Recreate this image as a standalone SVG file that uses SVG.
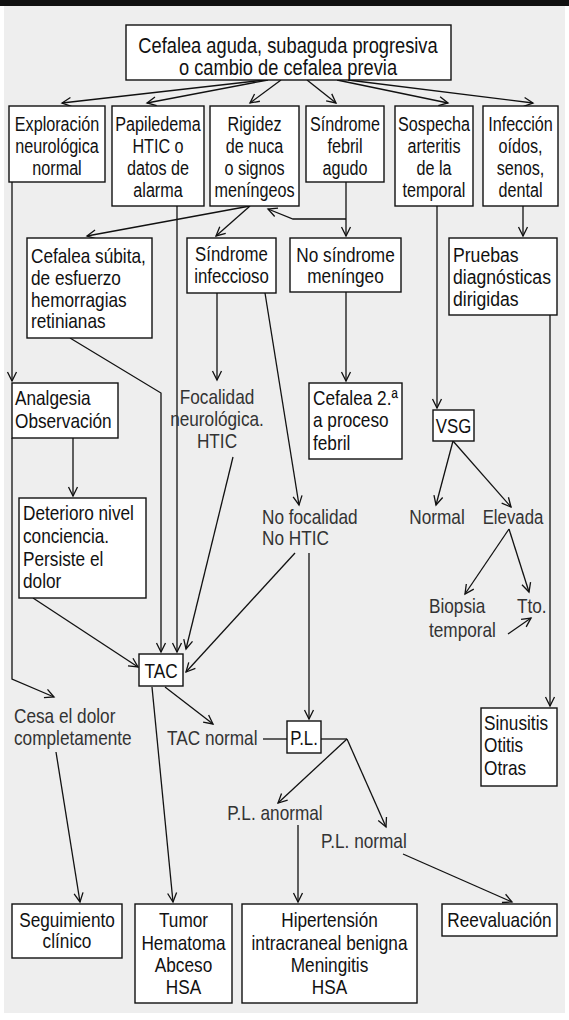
<svg xmlns="http://www.w3.org/2000/svg" width="569" height="1020" viewBox="0 0 569 1020">
  <defs>
    <style>
      .bx { fill: #fff; stroke: #111; stroke-width: 1.4; }
      .t { font-family: "Liberation Sans", Arial, sans-serif; font-size: 21px; fill: #111; }
      .l { font-family: "Liberation Sans", Arial, sans-serif; font-size: 21px; fill: #333; }
      .c { text-anchor: middle; }
      .ln { fill: none; stroke: #111; stroke-width: 1.3; }
      .ar { marker-end: url(#ah); }
    </style>
    <marker id="ah" viewBox="-11 -6 13 12" refX="0" refY="0" markerWidth="13" markerHeight="12" markerUnits="userSpaceOnUse" orient="auto">
      <path d="M-9,-4.5 L0,0 L-9,4.5" fill="none" stroke="#111" stroke-width="1.3"/>
    </marker>
  </defs>

  <!-- page -->
  <rect x="0" y="0" width="569" height="1020" fill="#fff"/>
  <rect x="4" y="6" width="561" height="1007" fill="#eeeeee"/>
  <rect x="0" y="0" width="569" height="6" fill="#111"/>

  <!-- connectors -->
  <g id="connectors">
    <line class="ln ar" x1="265" y1="80" x2="62" y2="103"/>
    <line class="ln ar" x1="268" y1="80" x2="147" y2="103"/>
    <line class="ln ar" x1="281" y1="80" x2="250" y2="103"/>
    <line class="ln ar" x1="307" y1="80" x2="336" y2="103"/>
    <line class="ln ar" x1="337" y1="80" x2="448" y2="103"/>
    <line class="ln ar" x1="348" y1="80" x2="533" y2="103"/>

    <line class="ln ar" x1="12" y1="182" x2="12" y2="381"/>
    <polyline class="ln ar" points="12,438 12,679 54,697"/>
    <line class="ln ar" x1="73" y1="438" x2="73" y2="496"/>
    <line class="ln ar" x1="33" y1="598" x2="138" y2="667"/>

    <line class="ln ar" x1="177" y1="206" x2="177" y2="652"/>
    <polyline class="ln ar" points="70,338 161,393 161,652"/>

    <line class="ln ar" x1="250" y1="206" x2="87" y2="236"/>
    <line class="ln ar" x1="250" y1="206" x2="216" y2="236"/>

    <line class="ln ar" x1="346" y1="182" x2="346" y2="236"/>
    <polyline class="ln ar" points="346,219 293,219 268,209"/>
    <line class="ln ar" x1="346" y1="292" x2="346" y2="381"/>

    <line class="ln ar" x1="437" y1="206" x2="437" y2="408"/>
    <line class="ln ar" x1="523" y1="206" x2="523" y2="236"/>
    <line class="ln ar" x1="550" y1="315" x2="550" y2="706"/>

    <line class="ln ar" x1="453" y1="441" x2="436" y2="505"/>
    <line class="ln ar" x1="453" y1="441" x2="511" y2="507"/>
    <line class="ln ar" x1="509" y1="529" x2="465" y2="594"/>
    <line class="ln ar" x1="509" y1="529" x2="529" y2="592"/>
    <line class="ln ar" x1="508" y1="634" x2="531" y2="618"/>

    <line class="ln ar" x1="217" y1="293" x2="217" y2="380"/>
    <line class="ln ar" x1="265" y1="293" x2="299" y2="505"/>
    <line class="ln ar" x1="233" y1="457" x2="186" y2="649"/>
    <line class="ln ar" x1="295" y1="553" x2="186" y2="672"/>
    <line class="ln ar" x1="309" y1="553" x2="309" y2="719"/>

    <line class="ln ar" x1="165" y1="687" x2="213" y2="724"/>
    <line class="ln" x1="263" y1="739" x2="287" y2="739"/>
    <line class="ln" x1="321" y1="739" x2="347" y2="739"/>
    <line class="ln ar" x1="347" y1="739" x2="278" y2="803"/>
    <line class="ln ar" x1="347" y1="739" x2="386" y2="827"/>
    <line class="ln ar" x1="298" y1="825" x2="298" y2="902"/>
    <line class="ln ar" x1="403" y1="854" x2="512" y2="902"/>

    <line class="ln ar" x1="152" y1="687" x2="173" y2="902"/>
    <line class="ln ar" x1="56" y1="752" x2="80" y2="902"/>
  </g>

  <!-- nodes; condensed lettering is obtained by a horizontal scale on each text column -->
  <g id="n-inicio">
    <rect class="bx" x="126" y="25" width="325" height="55"/>
    <g transform="translate(288 0) scale(0.83 1)">
      <text class="t c" y="53" style="font-size:22px">Cefalea aguda, subaguda progresiva</text>
      <text class="t c" y="75" style="font-size:22px">o cambio de cefalea previa</text>
    </g>
  </g>

  <g id="n-exploracion">
    <rect class="bx" x="9" y="106" width="96" height="76"/>
    <g transform="translate(57 0) scale(0.77 1)">
      <text class="t c" y="131">Exploración</text>
      <text class="t c" y="153">neurológica</text>
      <text class="t c" y="175">normal</text>
    </g>
  </g>
  <g id="n-papiledema">
    <rect class="bx" x="112" y="106" width="92" height="100"/>
    <g transform="translate(158 0) scale(0.77 1)">
      <text class="t c" y="131">Papiledema</text>
      <text class="t c" y="153">HTIC o</text>
      <text class="t c" y="175">datos de</text>
      <text class="t c" y="197">alarma</text>
    </g>
  </g>
  <g id="n-rigidez">
    <rect class="bx" x="210" y="106" width="89" height="100"/>
    <g transform="translate(254.5 0) scale(0.77 1)">
      <text class="t c" y="131">Rigidez</text>
      <text class="t c" y="153">de nuca</text>
      <text class="t c" y="175">o signos</text>
      <text class="t c" y="197">meníngeos</text>
    </g>
  </g>
  <g id="n-febril">
    <rect class="bx" x="306" y="106" width="78" height="76"/>
    <g transform="translate(345 0) scale(0.77 1)">
      <text class="t c" y="131">Síndrome</text>
      <text class="t c" y="153">febril</text>
      <text class="t c" y="175">agudo</text>
    </g>
  </g>
  <g id="n-arteritis">
    <rect class="bx" x="395" y="106" width="78" height="100"/>
    <g transform="translate(434 0) scale(0.77 1)">
      <text class="t c" y="131">Sospecha</text>
      <text class="t c" y="153">arteritis</text>
      <text class="t c" y="175">de la</text>
      <text class="t c" y="197">temporal</text>
    </g>
  </g>
  <g id="n-infeccion">
    <rect class="bx" x="483" y="106" width="75" height="100"/>
    <g transform="translate(520.5 0) scale(0.77 1)">
      <text class="t c" y="131">Infección</text>
      <text class="t c" y="153">oídos,</text>
      <text class="t c" y="175">senos,</text>
      <text class="t c" y="197">dental</text>
    </g>
  </g>

  <g id="n-subita">
    <rect class="bx" x="27" y="238" width="125" height="100"/>
    <g transform="translate(31 0) scale(0.82 1)">
      <text class="t" y="263">Cefalea súbita,</text>
      <text class="t" y="285">de esfuerzo</text>
      <text class="t" y="307">hemorragias</text>
      <text class="t" y="328">retinianas</text>
    </g>
  </g>
  <g id="n-infeccioso">
    <rect class="bx" x="187" y="238" width="89" height="55"/>
    <g transform="translate(231.5 0) scale(0.8 1)">
      <text class="t c" y="261">Síndrome</text>
      <text class="t c" y="283">infeccioso</text>
    </g>
  </g>
  <g id="n-nomeningeo">
    <rect class="bx" x="290" y="238" width="111" height="54"/>
    <g transform="translate(345.5 0) scale(0.82 1)">
      <text class="t c" y="262">No síndrome</text>
      <text class="t c" y="283">meníngeo</text>
    </g>
  </g>
  <g id="n-pruebas">
    <rect class="bx" x="449" y="238" width="108" height="77"/>
    <g transform="translate(453 0) scale(0.84 1)">
      <text class="t" y="262">Pruebas</text>
      <text class="t" y="284">diagnósticas</text>
      <text class="t" y="306">dirigidas</text>
    </g>
  </g>

  <g id="n-analgesia">
    <rect class="bx" x="12" y="383" width="106" height="55"/>
    <g transform="translate(15 0) scale(0.82 1)">
      <text class="t" y="405">Analgesia</text>
      <text class="t" y="428">Observación</text>
    </g>
  </g>
  <g id="n-focalidad">
    <g transform="translate(217 0) scale(0.82 1)">
      <text class="l c" y="404">Focalidad</text>
      <text class="l c" y="426">neurológica.</text>
      <text class="l c" y="448">HTIC</text>
    </g>
  </g>
  <g id="n-febril2">
    <rect class="bx" x="309" y="383" width="93" height="76"/>
    <g transform="translate(313 0) scale(0.82 1)">
      <text class="t" y="405">Cefalea 2.ª</text>
      <text class="t" y="427">a proceso</text>
      <text class="t" y="450">febril</text>
    </g>
  </g>
  <g id="n-vsg">
    <rect class="bx" x="433" y="410" width="41" height="31"/>
    <g transform="translate(453.5 0) scale(0.8 1)">
      <text class="t c" y="433">VSG</text>
    </g>
  </g>
  <g id="n-normal">
    <g transform="translate(437 0) scale(0.82 1)">
      <text class="l c" y="524">Normal</text>
    </g>
  </g>
  <g id="n-elevada">
    <g transform="translate(513 0) scale(0.8 1)">
      <text class="l c" y="524">Elevada</text>
    </g>
  </g>
  <g id="n-biopsia">
    <g transform="translate(429 0) scale(0.82 1)">
      <text class="l" y="613">Biopsia</text>
      <text class="l" y="637">temporal</text>
    </g>
  </g>
  <g id="n-tto">
    <g transform="translate(517 0) scale(0.82 1)">
      <text class="l" y="613">Tto.</text>
    </g>
  </g>

  <g id="n-deterioro">
    <rect class="bx" x="19" y="498" width="127" height="100"/>
    <g transform="translate(23 0) scale(0.82 1)">
      <text class="t" y="520">Deterioro nivel</text>
      <text class="t" y="543">conciencia.</text>
      <text class="t" y="566">Persiste el</text>
      <text class="t" y="588">dolor</text>
    </g>
  </g>
  <g id="n-nofocalidad">
    <g transform="translate(262 0) scale(0.82 1)">
      <text class="l" y="524">No focalidad</text>
      <text class="l" y="545">No HTIC</text>
    </g>
  </g>

  <g id="n-tac">
    <rect class="bx" x="139" y="654" width="44" height="32"/>
    <g transform="translate(161 0) scale(0.82 1)">
      <text class="t c" y="678">TAC</text>
    </g>
  </g>
  <g id="n-sinusitis">
    <rect class="bx" x="481" y="708" width="76" height="78"/>
    <g transform="translate(484 0) scale(0.82 1)">
      <text class="t" y="730">Sinusitis</text>
      <text class="t" y="752">Otitis</text>
      <text class="t" y="775">Otras</text>
    </g>
  </g>
  <g id="n-cesa">
    <g transform="translate(14 0) scale(0.82 1)">
      <text class="l" y="723">Cesa el dolor</text>
      <text class="l" y="745">completamente</text>
    </g>
  </g>
  <g id="n-tacnormal">
    <g transform="translate(167 0) scale(0.82 1)">
      <text class="l" y="745">TAC normal</text>
    </g>
  </g>
  <g id="n-pl">
    <rect class="bx" x="287" y="721" width="34" height="32"/>
    <g transform="translate(304 0) scale(0.8 1)">
      <text class="t c" y="745">P.L.</text>
    </g>
  </g>
  <g id="n-planormal">
    <g transform="translate(275 0) scale(0.82 1)">
      <text class="l c" y="820">P.L. anormal</text>
    </g>
  </g>
  <g id="n-plnormal">
    <g transform="translate(321 0) scale(0.82 1)">
      <text class="l" y="848">P.L. normal</text>
    </g>
  </g>

  <g id="n-seguimiento">
    <rect class="bx" x="12" y="904" width="110" height="54"/>
    <g transform="translate(67 0) scale(0.82 1)">
      <text class="t c" y="927">Seguimiento</text>
      <text class="t c" y="948">clínico</text>
    </g>
  </g>
  <g id="n-tumor">
    <rect class="bx" x="135" y="904" width="97" height="99"/>
    <g transform="translate(183.5 0) scale(0.82 1)">
      <text class="t c" y="927">Tumor</text>
      <text class="t c" y="950">Hematoma</text>
      <text class="t c" y="972">Abceso</text>
      <text class="t c" y="994">HSA</text>
    </g>
  </g>
  <g id="n-hipertension">
    <rect class="bx" x="242" y="904" width="175" height="99"/>
    <g transform="translate(329.5 0) scale(0.82 1)">
      <text class="t c" y="927">Hipertensión</text>
      <text class="t c" y="950">intracraneal benigna</text>
      <text class="t c" y="972">Meningitis</text>
      <text class="t c" y="994">HSA</text>
    </g>
  </g>
  <g id="n-reevaluacion">
    <rect class="bx" x="442" y="904" width="115" height="32"/>
    <g transform="translate(499.5 0) scale(0.82 1)">
      <text class="t c" y="927">Reevaluación</text>
    </g>
  </g>
</svg>
